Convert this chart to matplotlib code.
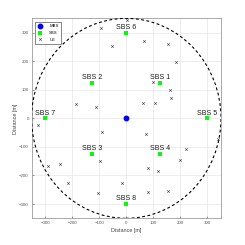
import numpy as np
import matplotlib
matplotlib.use('Agg')
import matplotlib.pyplot as plt
from matplotlib.patches import Circle

# Du lieu: MBS, SBS va UE (doc tu hinh)
mbs_x = [0]
mbs_y = [0]

sbs_names = ['SBS 1', 'SBS 2', 'SBS 3', 'SBS 4', 'SBS 5', 'SBS 6', 'SBS 7', 'SBS 8']
sbs_x = [125, -125, -125, 125, 300, 0, -300, 0]
sbs_y = [125, 125, -125, -125, 0, 300, 0, -300]

ue_x = [-93, -52, 1, 65, 153, 183, 98, 161, 166, 107, 60, -187, -111, -325, -89,
        -98, -290, -244, 74, 338, 221, 199, 80, 118, -214, -15, -106, 81, 153]
ue_y = [317, 252, 346, 272, 260, 197, 127, 99, 70, 55, 52, 49, 38, -25, -48,
        -148, -168, -159, -54, -74, -109, -147, -174, -185, -225, -228, -262, -257, -254]

ban_kinh = 350
ticks = [-300, -200, -100, 0, 100, 200, 300]

plt.rcParams['font.family'] = ['Liberation Sans', 'DejaVu Sans']

fig = plt.figure(figsize=(2.45, 2.45), dpi=100)
ax = fig.add_axes([0.129, 0.109, 0.773, 0.816])

ax.plot(mbs_x, mbs_y, 'o', color='#0000ff', markersize=3.2, label='MBS', zorder=4)
ax.plot(sbs_x, sbs_y, 's', color='#00ff00', markersize=2.4, markeredgewidth=0, label='SBS', zorder=4)
ax.plot(ue_x, ue_y, 'x', color='#444444', markersize=1.8, markeredgewidth=0.45, label='UE', zorder=4)

for ten, x, y in zip(sbs_names, sbs_x, sbs_y):
    ax.annotate(ten, (x, y), xytext=(0, 1.2), textcoords='offset points',
                ha='center', va='bottom', fontsize=5, color='#1a1a1a')

# Duong tron vung phu song
ax.add_patch(Circle((0, 0), ban_kinh, fill=False, linestyle=(0, (2.6, 2.2)),
                    linewidth=0.8, edgecolor='black', zorder=3))

ax.set_xlim(-350, 350)
ax.set_ylim(-350, 350)
ax.set_xticks(ticks)
ax.set_yticks(ticks)
ax.grid(True, color='#e6e6e6', linewidth=0.5)
ax.set_axisbelow(True)
ax.tick_params(direction='in', length=1.5, width=0.4, labelsize=3.2,
               colors='#555555', pad=2)
for s in ax.spines.values():
    s.set_color('#888888')
    s.set_linewidth(0.5)

ax.set_xlabel('Distance [m]', fontsize=4, color='#444444', labelpad=2)
ax.set_ylabel('Distance [m]', fontsize=4, color='#444444', labelpad=1)

leg = ax.legend(loc='upper left', fontsize=3.1, handlelength=1.2, handletextpad=1.5,
                borderpad=0.5, labelspacing=0.6, fancybox=False, framealpha=1,
                borderaxespad=0.9)
leg.get_frame().set_edgecolor('#555555')
leg.get_frame().set_linewidth(0.5)

fig.savefig('out.png', dpi=100)
